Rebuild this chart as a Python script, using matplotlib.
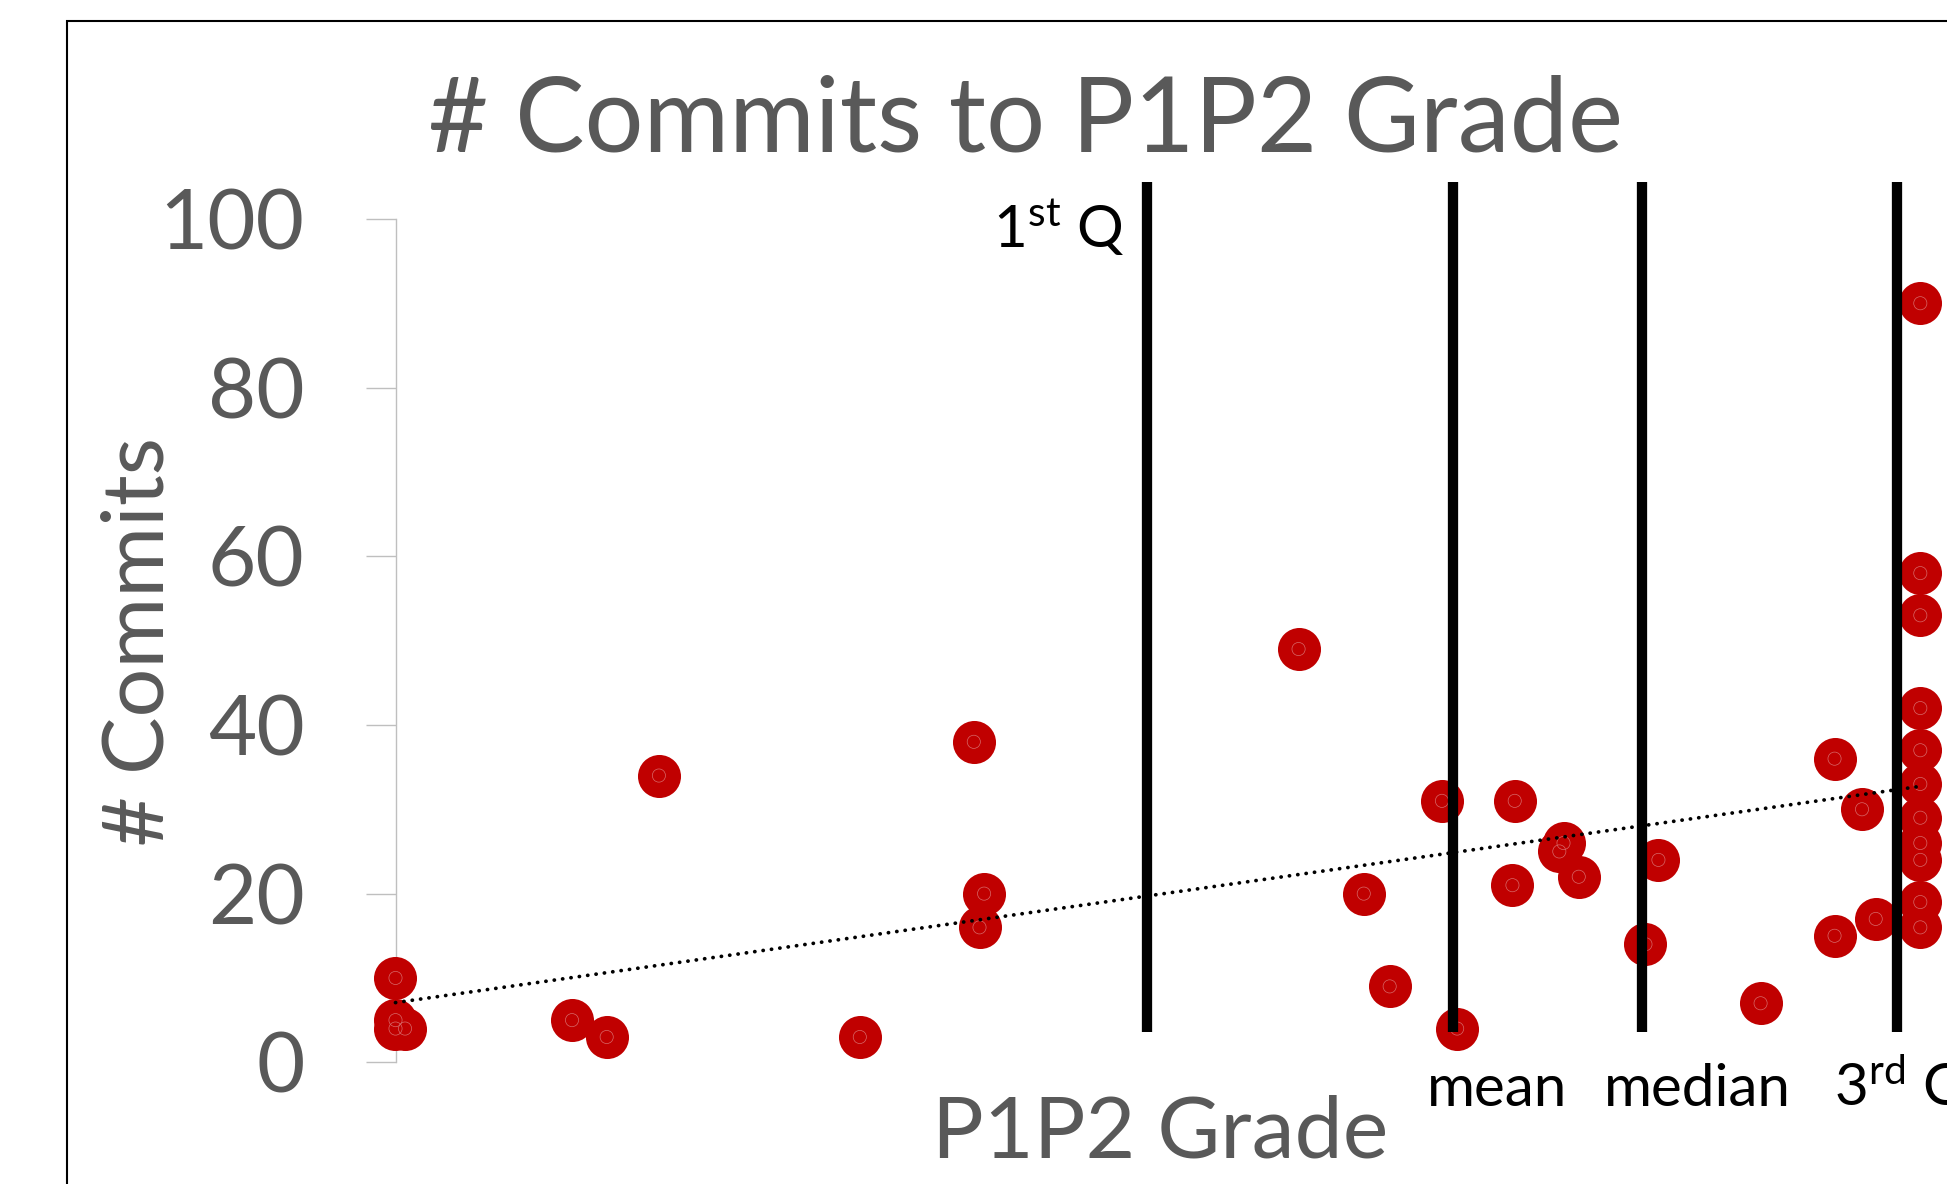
import matplotlib
matplotlib.use("Agg")
import matplotlib.pyplot as plt
from matplotlib.patches import Rectangle
import numpy as np

plt.rcParams["font.family"] = ["Lato", "DejaVu Sans"]
plt.rcParams["mathtext.fontset"] = "custom"
plt.rcParams["mathtext.rm"] = "Lato"
plt.rcParams["mathtext.it"] = "Lato"

# P1P2 grade vs number of commits
grade = [60.0, 60.0, 60.0, 60.25, 64.63, 65.54, 66.91, 72.18,
         75.17, 75.44, 75.32, 83.69, 85.40, 86.08, 87.45, 87.85,
         89.36, 89.30, 90.64, 90.53, 91.04, 93.13, 92.79, 95.81,
         97.75, 97.75, 98.47, 98.83,
         100, 100, 100, 100, 100, 100, 100, 100, 100, 100, 100]
commits = [10, 5, 4, 4, 5, 3, 34, 3,
           38, 20, 16, 49, 20, 9, 31, 4,
           31, 21, 26, 25, 22, 24, 14, 7,
           36, 15, 30, 17,
           90, 58, 53, 42, 37, 33, 29, 26, 24, 19, 16]

# summary markers drawn as vertical bars
stat_labels = [r"1$^{\mathrm{st}}$ Q", "mean", "median", r"3$^{\mathrm{rd}}$ Q"]
stat_grades = [79.71, 87.74, 92.70, 99.38]

yticks = [0, 20, 40, 60, 80, 100]

W, H = 1947, 1184
fig = plt.figure(figsize=(W / 100, H / 100), dpi=100)

ax = fig.add_axes([395.5 / W, 1 - 1062.3 / H, (W - 395.5) / W, (1062.3 - 218.9) / H])
ax.set_facecolor("none")
ax.set_xlim(60, 100.70)
ax.set_ylim(0, 100)

ax.scatter(grade, commits, s=960, color="#C00000", linewidths=0, zorder=3, clip_on=False)
ax.scatter(grade, commits, s=90, facecolors="none", edgecolors="#D86A6A",
           linewidths=0.5, zorder=3.5, clip_on=False)

# linear trendline
coef = np.polyfit(grade, commits, 1)
tx = np.array([min(grade), max(grade)])
ax.plot(tx, np.polyval(coef, tx), color="black", lw=2.7,
        linestyle=(0, (0.05, 2.2)), dash_capstyle="round", zorder=4, clip_on=False)

ax.vlines(stat_grades, 3.6, 104.4, color="black", lw=7.4, zorder=5, clip_on=False)

ax.set_xticks([])
ax.set_yticks(yticks)
ax.tick_params(axis="y", length=21.6, width=1, color="#BFBFBF", pad=44,
               labelsize=60, labelcolor="#595959")
for side in ["top", "right", "bottom"]:
    ax.spines[side].set_visible(False)
ax.spines["left"].set_color("#BFBFBF")
ax.spines["left"].set_linewidth(1)

# titles
fig.text(1026 / W, 1 - 151 / H, "# Commits to P1P2 Grade", ha="center", va="baseline",
         fontsize=75, color="#595959")
fig.text(1160 / W, 1 - 1157.7 / H, "P1P2 Grade", ha="center", va="baseline",
         fontsize=62, color="#595959")
fig.text(163.3 / W, 1 - 642 / H, "# Commits", rotation=90, rotation_mode="anchor",
         ha="center", va="baseline", fontsize=62, color="#595959")

# stat labels
fig.text(1124 / W, 1 - 247 / H, stat_labels[0], ha="right", va="baseline", fontsize=42)
fig.text(1427 / W, 1 - 1106 / H, stat_labels[1], ha="left", va="baseline", fontsize=42)
fig.text(1604 / W, 1 - 1106 / H, stat_labels[2], ha="left", va="baseline", fontsize=42)
fig.text(1834 / W, 1 - 1106 / H, stat_labels[3], ha="left", va="baseline", fontsize=42)

# chart border (runs off the right and bottom edges)
fig.add_artist(Rectangle((67 / W, -0.5), 2, 1.5 - 21 / H, transform=fig.transFigure,
                         fill=False, ec="black", lw=1.5))

fig.savefig("out.png", dpi=100)
